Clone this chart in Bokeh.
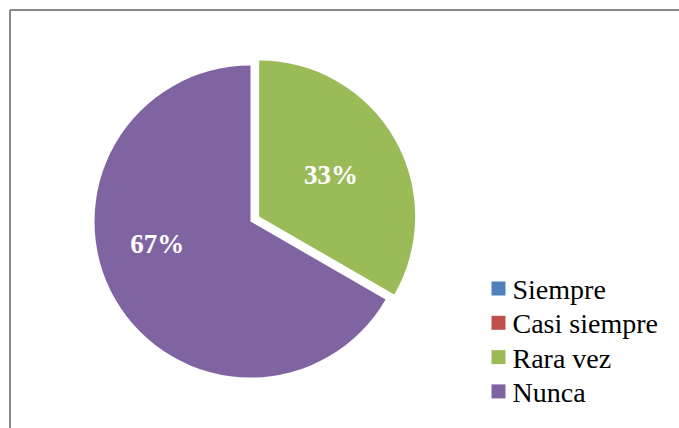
import math
from bokeh.plotting import figure
from bokeh.models import Range1d, ColumnDataSource
from bokeh.core.properties import value
from bokeh.embed import file_html
from bokeh.resources import INLINE

# ---- data ----
categories = ["Siempre", "Casi siempre", "Rara vez", "Nunca"]
counts = [0, 0, 1, 2]
colors = ["#4F81BD", "#C0504D", "#9BBB59", "#8064A2"]

# ---- layout constants (1 data unit = 1 px; y measured up from bottom) ----
W, H = 679, 428
CX, CY = 250, H - 221
R = 156
explode = [0, 0, 10, 0]
label_dist = [0, 0, 83, 96]
label_dir_deg = [None, None, None, 193.5]

p = figure(width=W, height=H, output_backend="svg", toolbar_location=None,
           x_range=Range1d(0, W), y_range=Range1d(0, H), min_border=0)
p.axis.visible = False
p.grid.visible = False
p.outline_line_color = None
p.background_fill_color = "white"
p.border_fill_color = "white"

total = sum(counts)
cum = 0
xs, ys, sa, ea, cols = [], [], [], [], []
lx, ly, lt = [], [], []
for i, v in enumerate(counts):
    start = math.pi / 2 - 2 * math.pi * cum / total
    end = start - 2 * math.pi * v / total
    cum += v
    if v == 0:
        continue
    mid = (start + end) / 2
    cx = CX + explode[i] * math.cos(mid)
    cy = CY + explode[i] * math.sin(mid)
    xs.append(cx); ys.append(cy); sa.append(start); ea.append(end); cols.append(colors[i])
    d = math.radians(label_dir_deg[i]) if label_dir_deg[i] is not None else mid
    lx.append(cx + label_dist[i] * math.cos(d))
    ly.append(cy + label_dist[i] * math.sin(d))
    lt.append(f"{round(100 * v / total)}%")

src = ColumnDataSource(dict(x=xs, y=ys, s=sa, e=ea, c=cols))
p.wedge(x="x", y="y", radius=R, start_angle="s", end_angle="e", direction="clock",
        fill_color="c", line_color=None, source=src)

p.text(x=lx, y=ly, text=lt, text_color="white", text_font=value("Liberation Serif"),
       text_font_style="bold", text_font_size="27px", text_align="center",
       text_baseline="middle")

# ---- legend (manual) ----
leg_x = 498
leg_y0 = H - 288
leg_dy = 34.3
ly_leg = [leg_y0 - k * leg_dy for k in range(len(categories))]
p.scatter(x=[leg_x] * len(categories), y=ly_leg, marker="square", size=14,
          fill_color=colors, line_color=None)
p.text(x=[leg_x + 14] * len(categories), y=[y - 1 for y in ly_leg], text=categories,
       text_color="black", text_font=value("Liberation Serif"),
       text_font_size="28px", text_align="left", text_baseline="middle")

# ---- border (top & left visible) ----
p.segment(x0=[9.5, 9.5], y0=[H - 9.5, H - 9.5], x1=[W, 9.5], y1=[H - 9.5, 0],
          line_color="#8a8a8a", line_width=2)

open("out.html", "w").write(file_html(p, INLINE))
